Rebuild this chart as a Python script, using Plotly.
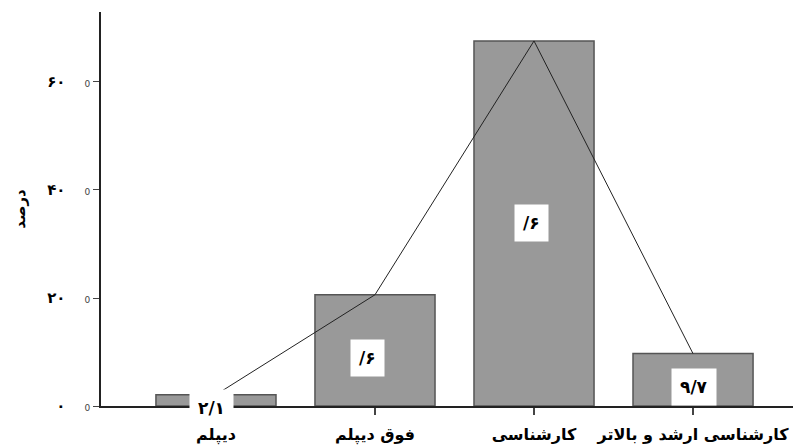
import plotly.graph_objects as go

# education level vs percent
categories = ['دیپلم', 'فوق دیپلم', 'کارشناسی', 'کارشناسی ارشد و بالاتر']
percent = [2.1, 20.6, 67.6, 9.7]
bar_labels = ['۲/۱', '/۶', '/۶', '۹/۷']

tick_vals = [0, 20, 40, 60]
tick_fa = ['۰', '۲۰', '۴۰', '۶۰']

fa_font = 'DejaVu Sans, Noto Sans, sans-serif'

fig = go.Figure()

fig.add_trace(go.Bar(x=categories, y=percent,
                     width=0.755,
                     marker=dict(color='#999999', line=dict(color='#555555', width=1.5)),
                     hoverinfo='skip', showlegend=False))

fig.add_trace(go.Scatter(x=categories, y=percent,
                         mode='lines',
                         line=dict(color='#222222', width=1),
                         hoverinfo='skip', showlegend=False))

# white label boxes (pixel nudges to match the source)
nudges = [(-4, -8), (-7, -8), (-3, 0), (1, -7)]
for cat, v, lab, (dx, dy) in zip(categories, percent, bar_labels, nudges):
    fig.add_annotation(x=cat, y=v / 2, text='<b>' + lab + '</b>',
                       showarrow=False, xshift=dx, yshift=dy,
                       bgcolor='white', borderpad=8,
                       font=dict(family=fa_font, size=17, color='black'))

ticktext = ['<b>' + t + '</b>&nbsp;&nbsp;&nbsp;&nbsp;'
            '<span style="font-size:9px;font-weight:normal;color:#444">0</span>'
            for t in tick_fa]

# page body has an 8px margin, so the margins are shifted to compensate
fig.update_xaxes(type='category', range=[-0.723, 3.679], automargin=False,
                 tickvals=categories, ticktext=['<b>' + c + '</b>' for c in categories],
                 showline=True, linecolor='#222222', linewidth=1.5,
                 ticks='outside', ticklen=7, tickcolor='#444444', tickwidth=1.5,
                 ticklabelstandoff=6,
                 tickfont=dict(family=fa_font, size=16, color='black'),
                 showgrid=False, zeroline=False)

fig.update_yaxes(range=[0, 72.96], tickvals=tick_vals, ticktext=ticktext,
                 automargin=False,
                 showline=True, linecolor='#222222', linewidth=1.5,
                 ticks='outside', ticklen=6, tickcolor='#444444', tickwidth=1,
                 tickfont=dict(family=fa_font, size=15, color='black'),
                 showgrid=False, zeroline=False,
                 title=dict(text='<b>درصد</b>', standoff=18,
                            font=dict(family=fa_font, size=15, color='black')))

fig.update_layout(width=801, height=447,
                  margin=dict(l=93, r=8, t=4, b=49),
                  plot_bgcolor='white', paper_bgcolor='white',
                  bargap=0.25)

fig.write_html('out.html')
